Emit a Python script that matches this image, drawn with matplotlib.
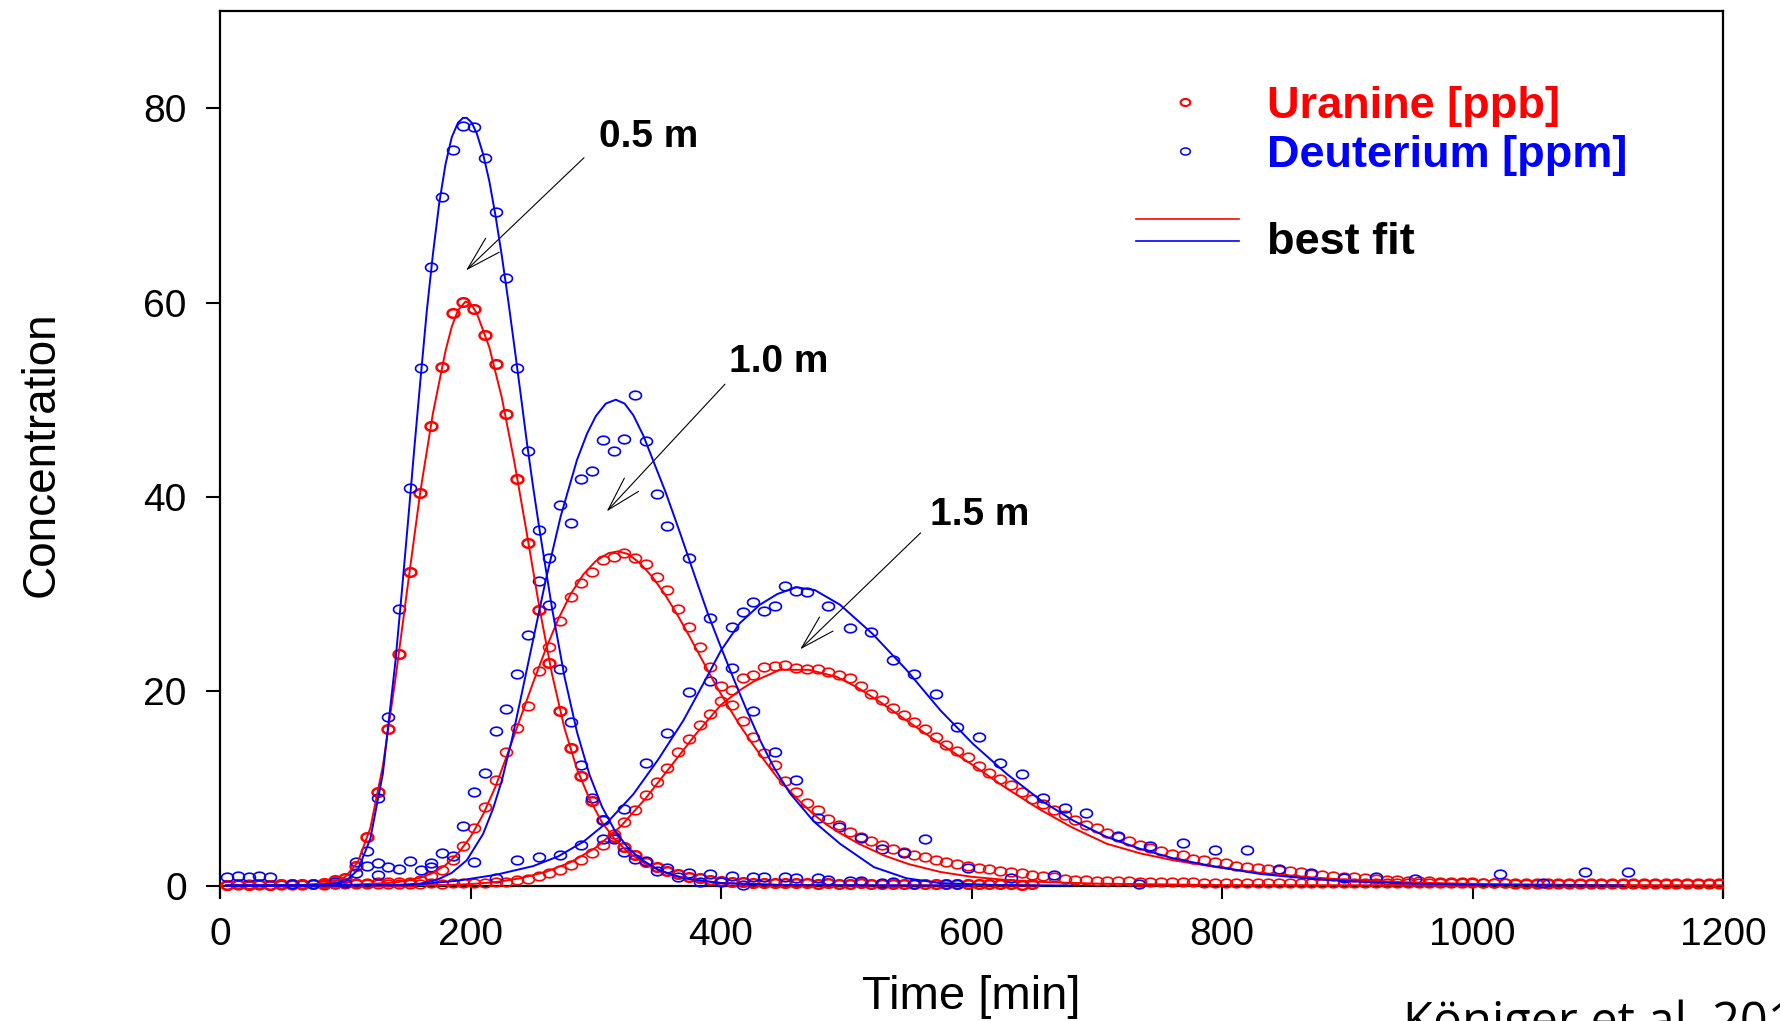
import numpy as np
import matplotlib
matplotlib.use("Agg")
import matplotlib.pyplot as plt
from matplotlib.path import Path
from matplotlib.lines import Line2D

plt.rcParams["font.family"] = ["Liberation Sans", "DejaVu Sans"]

RED = "#ff0000"
BLUE = "#0000ff"

# uranine was sampled on a regular grid (min)
t_uranine = 5.8 + 8.57 * np.arange(140)

uranine_05 = [0.1, 0.15, 0.1, 0.15, 0.1, 0.2, 0.15, 0.2, 0.2, 0.3, 0.6, 0.8, 2.0, 5.0, 9.65,
              16.1, 23.8, 32.3, 40.4, 47.3, 53.4, 58.9, 60.1, 59.3, 56.7, 53.7, 48.5, 41.8,
              35.3, 28.4, 22.9, 17.95, 14.2, 11.3, 8.7, 6.7, 5.0, 4.0, 3.1, 2.45, 1.9, 1.5,
              1.2, 0.9, 0.8, 0.6, 0.5, 0.4,
              0.35, 0.3, 0.3, 0.3, 0.25, 0.25, 0.3, 0.2, 0.25, 0.2, 0.2, 0.25, 0.2, 0.2,
              0.15, 0.2, 0.2, 0.15, 0.2, 0.15, 0.2, 0.15, 0.15, 0.2, 0.15, 0.15, 0.1, 0.15]

uranine_10 = [0.1, 0.1, 0.15, 0.1, 0.1, 0.15, 0.1, 0.2, 0.15, 0.2, 0.2, 0.25, 0.3, 0.3, 0.35,
              0.35, 0.4,
              0.4, 0.6, 1.0, 1.6, 2.6, 4.1, 5.9, 8.1, 10.85, 13.7, 16.2, 18.5, 22.1, 24.6,
              27.2, 29.7, 31.15, 32.3, 33.5, 33.8, 34.2, 33.7, 33.1, 31.8, 30.4, 28.5, 26.6,
              24.5, 22.5, 20.5,
              18.6, 16.95, 15.3, 13.6, 12.4, 10.8, 9.65, 8.5, 7.8, 6.85, 6.2, 5.5, 5.0, 4.6,
              4.2, 3.8, 3.5, 3.1, 2.9, 2.6, 2.4, 2.2, 2.0, 1.85, 1.7, 1.5, 1.4, 1.25, 1.1,
              1.0, 0.9, 0.7, 0.6,
              0.55, 0.5, 0.5, 0.45, 0.45, 0.4, 0.4, 0.4, 0.35, 0.35, 0.35, 0.3, 0.3, 0.3,
              0.3, 0.3, 0.3, 0.25, 0.25, 0.25, 0.25, 0.25, 0.25, 0.25, 0.25, 0.25, 0.25,
              0.25, 0.25, 0.25, 0.25, 0.25, 0.25, 0.25, 0.25, 0.25, 0.25, 0.25, 0.25, 0.25,
              0.2, 0.2, 0.2, 0.2, 0.2, 0.2, 0.2, 0.2, 0.2, 0.2, 0.2, 0.2, 0.2, 0.2, 0.2,
              0.2, 0.2, 0.2, 0.2, 0.2]

uranine_15 = [0.1, 0.15, 0.1, 0.15, 0.1, 0.1, 0.15, 0.1, 0.15, 0.1, 0.15, 0.15, 0.2, 0.15,
              0.2, 0.2, 0.15, 0.2, 0.2, 0.25, 0.2, 0.25, 0.25, 0.3, 0.3, 0.35,
              0.4, 0.55, 0.7, 1.0, 1.25, 1.65, 2.1, 2.6, 3.4, 4.2, 5.3, 6.5, 7.8, 9.3, 10.7,
              12.05, 13.7, 15.1, 16.5, 17.7, 19.0, 20.1,
              21.4, 21.65, 22.5, 22.6, 22.7, 22.4, 22.3, 22.25, 22.0, 21.65, 21.4, 20.5,
              19.7, 19.1, 18.3, 17.5, 16.85, 16.1, 15.3, 14.5, 13.8, 13.25, 12.3, 11.6,
              10.95, 10.3, 9.6, 8.9, 8.35, 7.8, 7.25, 6.7, 6.2, 5.9, 5.4, 5.0, 4.6, 4.2,
              3.9, 3.55, 3.25, 3.1, 2.7, 2.6, 2.4, 2.3, 2.05, 1.95, 1.85,
              1.75, 1.65, 1.45, 1.35, 1.2, 1.1, 1.0, 0.9, 0.85, 0.75, 0.65, 0.6, 0.55, 0.5,
              0.45, 0.42, 0.4, 0.36, 0.33, 0.32, 0.3, 0.29, 0.27,
              0.25, 0.25, 0.25, 0.25, 0.25, 0.25, 0.25, 0.25, 0.25, 0.25, 0.25, 0.25, 0.25,
              0.25, 0.25, 0.25, 0.25, 0.25, 0.25, 0.25]

deut_05_t = [5.8, 14.4, 22.9, 31.5, 40.1, 57.2, 74.4, 91.5, 100.1,
             108.6, 117.2, 125.8, 134.4, 142.9, 151.5, 160.1, 168.6, 177.2, 185.8, 194.3,
             202.9, 211.5, 220.1, 228.6, 237.2, 245.8, 254.3, 262.9, 271.5, 280.0, 288.6,
             297.2, 305.8, 314.3, 322.9, 331.5, 340.0, 348.6,
             357.2, 365.7, 374.3, 382.9, 391.5, 400.0, 408.6, 417.2, 425.7, 434.3,
             451.4, 460.0, 477.2, 485.7, 502.9, 511.4, 528.6, 537.1, 554.3, 580.0, 588.6]
deut_05 = [0.9, 1.0, 0.9, 1.0, 0.9, 0.2, 0.2, 0.4, 0.3,
           1.25, 3.6, 9.0, 17.3, 28.5, 40.9, 53.3, 63.7, 70.9, 75.7, 78.2, 78.1, 74.9, 69.3,
           62.5, 53.3, 44.7, 36.6, 28.9, 22.3, 16.85, 12.4, 8.97, 6.7, 4.75, 3.5, 2.7, 2.5, 1.5,
           1.8, 0.85, 1.3, 0.4, 1.2, 0.35, 1.0, 0.1, 0.9, 0.9,
           0.9, 0.8, 0.75, 0.6, 0.45, 0.5, 0.3, 0.4, 0.2, 0.15, 0.15]

deut_10_t = [108.6, 117.2, 125.8, 134.4, 142.9, 151.5, 160.1, 168.6, 177.2, 185.8, 194.3,
             202.9, 211.5, 220.1, 228.6, 237.2, 245.8, 254.3, 262.9, 271.5, 280.0, 288.6,
             297.2, 305.8, 314.3, 322.9, 331.5, 340.0, 348.6, 357.2,
             374.3, 391.5, 408.6, 425.7, 442.9, 460.0, 477.2, 494.3, 511.4, 528.6, 545.7,
             562.9, 597.1, 631.4, 665.7, 734.0]
deut_10 = [2.45, 2.0, 2.35, 1.87, 1.66, 2.55, 1.6, 2.28, 3.38, 3.03,
           6.1, 9.6, 11.6, 15.9, 18.2, 21.8, 25.8, 31.3, 33.7, 39.2,
           37.3, 41.8, 42.7, 45.9, 44.7, 46.0, 50.5, 45.7, 40.3, 37.0,
           33.7, 27.5, 22.35, 18.0, 13.7, 10.9, 7.0, 6.05, 4.85, 3.8, 3.3, 4.8,
           1.77, 0.75, 1.08, 0.15]

deut_15_t = [125.8, 168.6, 202.9, 220.1, 237.2, 254.3, 271.5, 288.6, 305.8, 322.9,
             340.0, 357.2, 374.3, 391.5, 408.6, 417.2, 425.7, 434.3, 442.9, 451.4,
             460.0, 468.6, 485.7, 502.9, 520.0, 537.1, 554.3, 571.4, 588.6, 605.7,
             622.8, 640.0, 657.1, 674.3, 691.4, 717.1, 742.8, 768.5, 794.2, 819.9,
             845.6, 871.3, 897.0, 922.7, 954.0, 1022.0, 1056.0, 1090.0, 1124.0]
deut_15 = [1.08, 1.87, 2.4, 0.74, 2.6, 2.96, 3.1, 4.2, 4.75, 7.9,
           12.6, 15.7, 19.9, 21.0, 26.6, 28.1, 29.2, 28.3, 28.8, 30.8,
           30.3, 30.2, 28.75, 26.5, 26.1, 23.2, 21.8, 19.7, 16.3, 15.3,
           12.6, 11.5, 9.0, 8.0, 7.5, 5.1, 4.1, 4.4, 3.7, 3.7,
           1.7, 1.25, 0.8, 0.9, 0.64, 1.2, 0.22, 1.35, 1.35]

# best fit curves
fit_u05_t = [5, 60, 90, 100, 110, 120, 130, 140, 150, 160, 170, 180, 185, 190, 196, 200, 205,
             215, 225, 235, 245, 255, 265, 275, 285, 295, 305, 315, 325, 340, 360, 380, 400,
             450, 500, 650]
fit_u05 = [0, 0, 0.3, 0.9, 2.4, 5.9, 12.3, 21.2, 31.0, 40.6, 48.6, 55.0, 57.5, 59.2, 60.1,
           59.9, 58.9, 55.4, 50.2, 43.6, 36.2, 28.6, 21.8, 16.2, 12.0, 8.9, 6.5, 4.8, 3.5,
           2.2, 1.1, 0.55, 0.27, 0.05, 0.01, 0]

fit_d05_t = [5, 80, 100, 110, 120, 130, 140, 145, 150, 155, 160, 165, 170, 175, 180, 185, 190,
             194, 197, 201, 205, 210, 215, 220, 225, 230, 235, 240, 245, 250, 255, 265, 275,
             285, 295, 305, 315, 325, 335, 350, 370, 400, 450, 600]
fit_d05 = [0, 0, 0.4, 1.6, 4.8, 11.5, 23.0, 30.0, 37.3, 44.8, 52.0, 59.0, 65.0, 70.2, 74.2,
           77.0, 78.5, 79.0, 79.0, 78.5, 77.4, 75.3, 72.5, 68.9, 64.8, 60.3, 55.5, 50.6, 45.6,
           41.0, 36.7, 28.6, 21.5, 15.8, 11.4, 8.1, 5.7, 4.0, 2.8, 1.6, 0.75, 0.25, 0.05, 0]

fit_u10_t = [5, 100, 140, 160, 170, 180, 190, 200, 210, 220, 230, 240, 250, 260, 270, 280, 290,
             300, 310, 318, 326, 335, 345, 355, 365, 375, 385, 395, 405, 415, 425, 435, 445,
             455, 465, 475, 485, 495, 510, 530, 550, 575, 600, 630, 660, 700, 800, 1000]
fit_u10 = [0, 0.05, 0.3, 0.8, 1.3, 2.1, 3.3, 5.0, 7.3, 10.2, 13.7, 17.3, 20.9, 24.3, 27.4,
           30.0, 32.0, 33.4, 34.2, 34.4, 34.1, 33.2, 31.8, 30.0, 27.9, 25.6, 23.2, 20.8, 18.6,
           16.5, 14.6, 12.8, 11.1, 9.7, 8.4, 7.2, 6.2, 5.4, 4.3, 3.1, 2.2, 1.4, 0.9, 0.55,
           0.35, 0.2, 0.05, 0.01]

fit_d10_t = [5, 140, 160, 173, 185, 197, 210, 218, 225, 233, 240, 250, 260, 272, 285, 293,
             300, 308, 316, 323, 330, 338, 345, 356, 367, 380, 390, 400, 410, 420, 431, 442,
             455, 474, 495, 522, 548, 575, 620, 680]
fit_d10 = [0, 0.05, 0.2, 0.57, 1.3, 2.6, 5.3, 7.9, 10.8, 15.0, 19.2, 25.3, 31.4, 38.0, 43.8,
           46.5, 48.3, 49.6, 50.0, 49.6, 48.4, 46.3, 44.0, 40.4, 36.4, 31.5, 27.8, 24.5, 21.3,
           18.2, 15.0, 12.2, 9.5, 6.6, 4.3, 1.9, 0.75, 0.25, 0.05, 0]

fit_u15_t = [5, 180, 200, 220, 240, 260, 280, 300, 320, 340, 360, 380, 400, 415, 426, 447, 470,
             492, 508, 528, 548, 575, 601, 628, 655, 680, 708, 735, 761, 795, 830, 870, 900,
             950, 1000, 1100, 1200]
fit_u15 = [0, 0.05, 0.15, 0.35, 0.75, 1.4, 2.4, 3.9, 6.1, 9.0, 12.3, 15.6, 18.6, 20.1, 21.0,
           22.2, 22.2, 21.5, 20.45, 18.8, 17.0, 14.6, 12.4, 10.0, 7.8, 6.0, 4.3, 3.3, 2.6, 1.9,
           1.3, 0.85, 0.6, 0.32, 0.17, 0.05, 0.02]

fit_d15_t = [5, 150, 190, 220, 250, 270, 290, 310, 330, 350, 370, 386, 400, 415, 431, 445, 460,
             475, 495, 521, 548, 575, 601, 628, 655, 681, 708, 734, 761, 788, 830, 870, 900,
             950, 1000, 1060, 1120]
fit_d15 = [0, 0.03, 0.5, 1.1, 2.0, 3.0, 4.5, 6.6, 9.4, 13.0, 17.0, 20.8, 24.2, 27.0, 28.9,
           30.0, 30.7, 30.4, 28.9, 25.9, 22.2, 18.05, 14.6, 11.5, 8.8, 6.7, 5.0, 3.8, 2.8, 2.1,
           1.2, 0.7, 0.45, 0.2, 0.08, 0.03, 0.01]

# slightly flattened open circle, as in the original
ang = np.linspace(0, 2 * np.pi, 41)
oval = Path(np.column_stack([np.cos(ang), 0.72 * np.sin(ang)]))

fig = plt.figure(figsize=(17.8, 10.21), dpi=100)
ax = fig.add_axes([0.1236, 0.12125, 0.8444, 0.86798])


def dots(t, c, color, mew=1.2):
    ax.plot(t, c, linestyle="none", marker=oval, ms=8.6, mfc="none",
            mec=color, mew=mew, zorder=3)


dots(t_uranine[:len(uranine_05)], uranine_05, RED, mew=1.8)
dots(t_uranine, uranine_10, RED)
dots(t_uranine, uranine_15, RED)
dots(deut_05_t, deut_05, BLUE)
dots(deut_10_t, deut_10, BLUE)
dots(deut_15_t, deut_15, BLUE)

for t, c, col in [(fit_u05_t, fit_u05, RED), (fit_u10_t, fit_u10, RED),
                  (fit_u15_t, fit_u15, RED), (fit_d05_t, fit_d05, BLUE),
                  (fit_d10_t, fit_d10, BLUE), (fit_d15_t, fit_d15, BLUE)]:
    ax.plot(t, c, color=col, lw=1.4, zorder=4)

ax.set_xlim(0, 1200)
ax.set_ylim(-1.2, 90)
ax.spines["bottom"].set_position(("data", 0))
for s in ax.spines.values():
    s.set_linewidth(1.6)
ax.set_xticks(range(0, 1201, 200))
ax.set_yticks(range(0, 81, 20))
ax.tick_params(axis="y", labelsize=28, length=10, width=1.5, pad=14)
ax.tick_params(axis="x", labelsize=28, length=9, width=1.5, pad=14)

ax.set_ylabel("Concentration", fontsize=33)
ax.yaxis.set_label_coords(-0.104, 0.5)
ax.set_xlabel("Time [min]", fontsize=34)
ax.xaxis.set_label_coords(0.5, -0.088)

# depth labels with arrows
arrow = dict(arrowstyle="->,head_length=1.24,head_width=0.35", lw=0.8, color="black",
             shrinkA=0, shrinkB=0, mutation_scale=20)
for label, tx, ty, tail, tip in [("0.5 m", 302.9, 75.97, (290.6, 74.9), (196.4, 63.3)),
                                 ("1.0 m", 406.6, 52.86, (403.2, 51.6), (308.7, 38.5)),
                                 ("1.5 m", 567.2, 37.09, (559.4, 36.3), (463.1, 24.3))]:
    ax.annotate("", xy=tip, xytext=tail, arrowprops=arrow)
    ax.text(tx, ty, label, fontsize=28, fontweight="bold", ha="left", va="baseline")

# hand made legend
tr = ax.transAxes
ax.add_line(Line2D([0.6418], [0.8976], transform=tr, ls="none", marker=oval, ms=7,
                   mfc="none", mec=RED, mew=1.5))
ax.add_line(Line2D([0.6423], [0.8420], transform=tr, ls="none", marker=oval, ms=7,
                   mfc="none", mec=BLUE, mew=1.1))
ax.add_line(Line2D([0.6092, 0.6778], [0.7653, 0.7653], transform=tr, color=RED, lw=1.2))
ax.add_line(Line2D([0.6092, 0.6778], [0.7408, 0.7408], transform=tr, color=BLUE, lw=1.2))
ax.text(0.6966, 0.8789, "Uranine [ppb]", transform=tr, color=RED, fontsize=32.5,
        fontweight="bold", va="baseline")
ax.text(0.6966, 0.8243, "Deuterium [ppm]", transform=tr, color=BLUE, fontsize=32.5,
        fontweight="bold", va="baseline")
ax.text(0.6966, 0.7258, "best fit", transform=tr, color="black", fontsize=32.5,
        fontweight="bold", va="baseline")

fig.text(1403 / 1780, 0.021, "Königer et al. 2010", fontsize=35,
         family=["Open Sans", "DejaVu Sans"], va="top", ha="left")

fig.savefig("out.png", dpi=100)
